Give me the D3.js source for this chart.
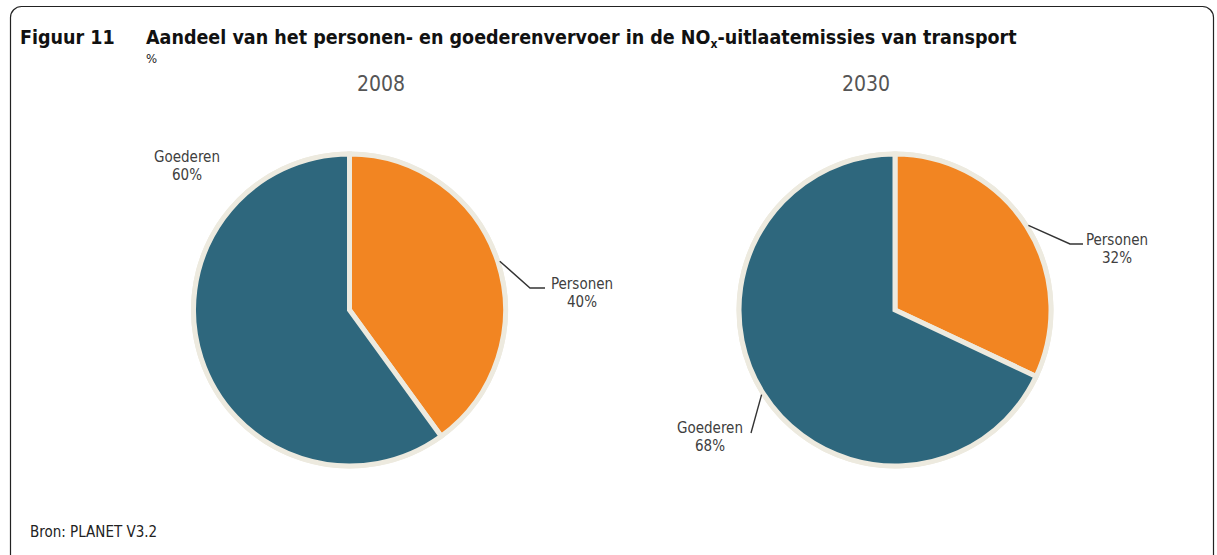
<!DOCTYPE html>
<html>
<head>
<meta charset="utf-8">
<script src="https://cdn.jsdelivr.net/npm/d3@7"></script>
<style>
  html, body { margin: 0; padding: 0; background: #fff; }
  svg { display: block; }
</style>
</head>
<body>
<svg id="chart" width="1217" height="555"></svg>
<script>
// NOx exhaust emission shares of transport, by passenger vs freight
const years = ["2008", "2030"];
const categories = ["Personen", "Goederen"];
const personen = [40, 32];
const goederen = [60, 68];

const colors = { Personen: "#F28522", Goederen: "#2E677D" };
const sepColor = "#EDEADF";
const textColor = "#404040";
const fontFamily = "'DejaVu Sans Condensed', 'DejaVu Sans', sans-serif";

const svg = d3.select("#chart");

// outer frame with rounded corners
svg.append("rect")
  .attr("x", 10.5).attr("y", 6.5)
  .attr("width", 1203).attr("height", 580)
  .attr("rx", 11).attr("ry", 11)
  .attr("fill", "none")
  .attr("stroke", "#222")
  .attr("stroke-width", 1.2);

// heading
const headSize = 19.5;
svg.append("text")
  .attr("x", 20).attr("y", 44)
  .attr("font-family", fontFamily)
  .attr("font-weight", "bold")
  .attr("font-size", headSize)
  .attr("fill", "#111")
  .text("Figuur 11");
const title = svg.append("text")
  .attr("x", 146).attr("y", 44)
  .attr("font-family", fontFamily)
  .attr("font-weight", "bold")
  .attr("font-size", headSize)
  .attr("fill", "#111");
title.append("tspan").text("Aandeel van het personen- en goederenvervoer in de NO");
title.append("tspan").attr("font-size", 12).attr("dy", 4).text("x");
title.append("tspan").attr("dy", -4).text("-uitlaatemissies van transport");

svg.append("text")
  .attr("x", 146).attr("y", 63)
  .attr("font-family", fontFamily)
  .attr("font-size", 13)
  .attr("fill", "#222")
  .text("%");

svg.append("text")
  .attr("x", 30).attr("y", 537)
  .attr("font-family", fontFamily)
  .attr("font-size", 15)
  .attr("fill", "#222")
  .text("Bron: PLANET V3.2");

// one pie per year
const radius = 156;
const pies = [
  { cx: 349.5, cy: 310, titleX: 381 },
  { cx: 895, cy: 310, titleX: 866 }
];

// label placement per year and category: leader elbow and text anchor
const labelLayout = [
  {
    Personen: { leader: true, elbow: [530, 288], end: [545, 288], text: [582, 289] },
    Goederen: { leader: false, text: [187, 162] }
  },
  {
    Personen: { leader: true, elbow: [1070, 244], end: [1083, 244], text: [1117, 245] },
    Goederen: { leader: true, elbow: [751, 433], end: [751, 433], text: [710, 433] }
  }
];

const pie = d3.pie().sort(null).value(d => d.value);
const arc = d3.arc().innerRadius(0).outerRadius(radius);

years.forEach((year, i) => {
  const data = [
    { cat: categories[0], value: personen[i] },
    { cat: categories[1], value: goederen[i] }
  ];
  const p = pies[i];
  const g = svg.append("g").attr("transform", `translate(${p.cx},${p.cy})`);

  const slices = pie(data);

  // beige rim behind the slices
  g.append("circle")
    .attr("r", radius)
    .attr("fill", sepColor)
    .attr("stroke", sepColor)
    .attr("stroke-width", 5);

  g.selectAll("path.slice")
    .data(slices)
    .join("path")
    .attr("class", "slice")
    .attr("d", arc)
    .attr("fill", d => colors[d.data.cat])
    .attr("stroke", sepColor)
    .attr("stroke-width", 5)
    .attr("stroke-linejoin", "miter");

  svg.append("text")
    .attr("x", p.titleX).attr("y", 91)
    .attr("text-anchor", "middle")
    .attr("font-family", fontFamily)
    .attr("font-size", 21)
    .attr("fill", "#555")
    .text(year);

  slices.forEach(s => {
    const lay = labelLayout[i][s.data.cat];
    const mid = (s.startAngle + s.endAngle) / 2;
    const r0 = radius + 2;
    const sx = p.cx + r0 * Math.sin(mid);
    const sy = p.cy - r0 * Math.cos(mid);
    if (lay.leader) {
      svg.append("polyline")
        .attr("points", [[sx, sy], lay.elbow, lay.end].map(q => q.join(",")).join(" "))
        .attr("fill", "none")
        .attr("stroke", "#333")
        .attr("stroke-width", 1.4);
    }
    const t = svg.append("text")
      .attr("x", lay.text[0]).attr("y", lay.text[1])
      .attr("text-anchor", "middle")
      .attr("font-family", fontFamily)
      .attr("font-size", 15)
      .attr("fill", textColor);
    t.append("tspan").attr("x", lay.text[0]).attr("dy", 0).text(s.data.cat);
    t.append("tspan").attr("x", lay.text[0]).attr("dy", 18).text(s.data.value + "%");
  });
});
</script>
</body>
</html>
